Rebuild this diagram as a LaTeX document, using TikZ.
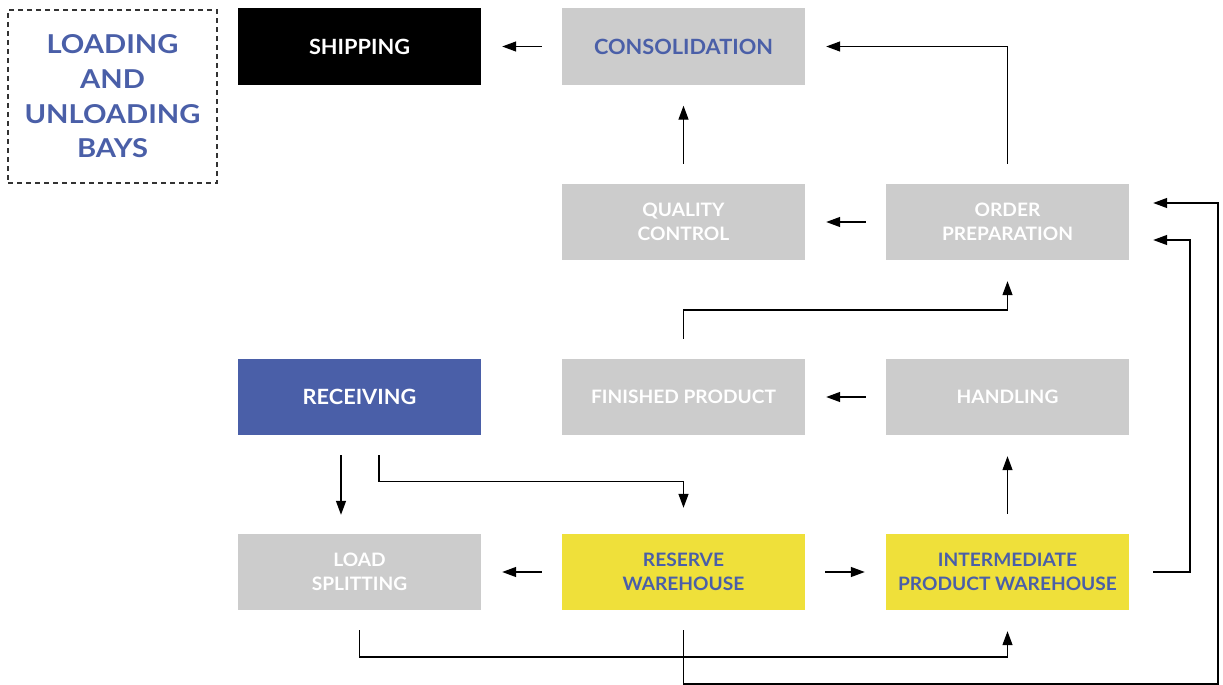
\documentclass[tikz,border=0pt]{standalone}
\usepackage{fontspec}
\setmainfont{Lato}[FakeStretch=1.035]
\newfontfamily\baysfont{Lato}[FakeStretch=1.12]
\usepackage{xcolor}
\usetikzlibrary{arrows.meta}

\definecolor{bayblue}{HTML}{4A5FA8}
\definecolor{boxgray}{HTML}{CCCCCC}
\definecolor{boxyellow}{HTML}{EFE03A}

\begin{document}
\begin{tikzpicture}[x=1pt, y=-1pt,
    box/.style={minimum width=243pt, minimum height=76pt, inner sep=0pt, align=center, fill=boxgray, text=white, font=\bfseries\fontsize{18.5}{24}\selectfont},
    big/.style={font=\bfseries\fontsize{21}{24}\selectfont},
    arr/.style={-{Triangle[length=14pt,width=10pt]}, line width=1.3pt, shorten <=20pt, shorten >=21pt}]
  \useasboundingbox (0,0) rectangle (1223,685);
  % bays
  \node [draw=black!80, line width=1.2pt, dash pattern=on 5pt off 4pt, minimum width=209pt, minimum height=173pt, align=center, text=bayblue, font=\baysfont\bfseries\fontsize{26}{34.7}\selectfont] (bays) at (112.5,96.5) {LOADING\\AND\\UNLOADING\\BAYS};
  % first row
  \node [box, big, fill=black] (ship) at (359.5,46.5) {SHIPPING};
  \node [box, big, text=bayblue] (cons) at (683.5,46.5) {CONSOLIDATION};
  % second row
  \node [box] (qual) at (683.5,222) {QUALITY\\CONTROL};
  \node [box] (order) at (1007.5,222) {ORDER\\PREPARATION};
  % third row
  \node [box, big, fill=bayblue] (recv) at (359.5,397) {RECEIVING};
  \node [box] (fin) at (683.5,397) {FINISHED PRODUCT};
  \node [box] (hand) at (1007.5,397) {HANDLING};
  % fourth row
  \node [box] (load) at (359.5,572) {LOAD\\SPLITTING};
  \node [box, fill=boxyellow, text=bayblue] (res) at (683.5,572) {RESERVE\\WAREHOUSE};
  \node [box, fill=boxyellow, text=bayblue] (inter) at (1007.5,572) {INTERMEDIATE\\PRODUCT WAREHOUSE};
  % turning points
  \coordinate (lvlfin) at (0,310);
  \coordinate (lvlrecv) at (0,481.5);
  \coordinate (lvlload) at (0,657);
  \coordinate (inright) at (1190,0);
  \coordinate (outright) at (1218,684);

  \draw[arr] (cons) -- (ship);
  \draw[arr] (qual) -- (cons);
  \draw[arr] (order.north) |- (cons.east);
  \draw[arr] (order) -- (qual);
  \draw[arr] (fin.north) -- (fin.north |- lvlfin) -| (order.south);
  \draw[arr] (hand) -- (fin);
  \draw[arr, shorten >=19pt] ([xshift=-18.5pt]recv.south) -- ([xshift=-18.5pt]load.north);
  \draw[arr, shorten >=26pt] ([xshift=19.5pt]recv.south) |- (res.north |- lvlrecv) -- (res.north);
  \draw[arr] (res) -- (load);
  \draw[arr] (res) -- (inter);
  \draw[arr] (inter) -- (hand);
  \draw[arr, shorten <=24pt, shorten >=24pt] (inter.east) -- (inter.east -| inright) |- ([yshift=-18pt]order.east);
  \draw[arr] (load.south) -- (load.south |- lvlload) -| (inter.south);
  \draw[arr, shorten >=24pt] (res.south) |- (outright) |- ([yshift=19pt]order.east);
\end{tikzpicture}
\end{document}
